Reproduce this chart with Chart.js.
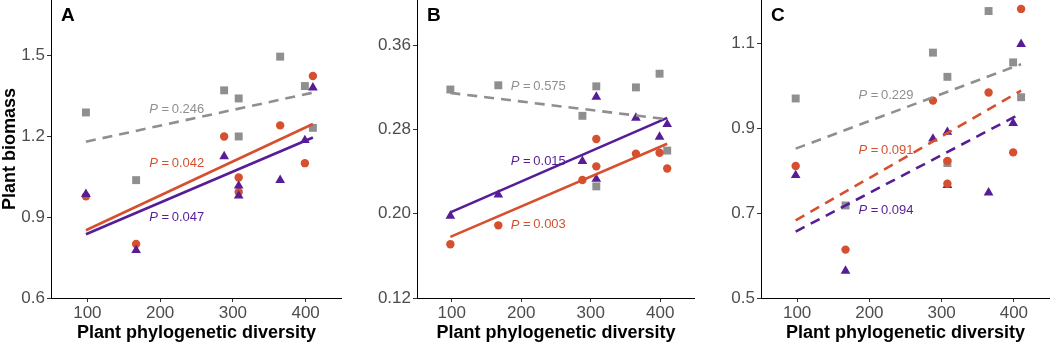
<!DOCTYPE html>
<html>
<head>
<meta charset="utf-8">
<script src="https://cdn.jsdelivr.net/npm/chart.js@4.4.0/dist/chart.umd.min.js"></script>
<style>
  html, body { margin: 0; padding: 0; background: #fff; }
  #figure { position: relative; width: 1050px; height: 344px; overflow: hidden; }
  #figure canvas { position: absolute; top: 0; }
</style>
</head>
<body>
<div id="figure">
  <canvas id="panelA" width="342" height="344" style="left:0px"></canvas>
  <canvas id="panelB" width="350" height="344" style="left:345px"></canvas>
  <canvas id="panelC" width="353" height="344" style="left:697px"></canvas>
</div>
<script>
// phylogenetic diversity of the eight plots (shared by all panels)
const diversity = [98, 167, 288, 308, 308, 365, 399, 410];
const xTicks = [100, 200, 300, 400];

// A
const squaresA = [1.288, 1.037, 1.370, 1.340, 1.199, 1.495, 1.386, 1.231];
const circlesA = [0.977, 0.800, 1.199, 1.047, 0.993, 1.240, 1.100, 1.423];
const trianglesA = [0.985, 0.777, 1.125, 1.016, 0.979, 1.037, 1.185, 1.380];
const pValuesA = ['0.246', '0.042', '0.047'];
const yTicksA = [0.6, 0.9, 1.2, 1.5];

// B
const squaresB = [0.318, 0.322, 0.293, 0.321, 0.226, 0.320, 0.333, 0.260];
const circlesB = [0.171, 0.189, 0.232, 0.271, 0.245, 0.257, 0.258, 0.243];
const trianglesB = [0.198, 0.218, 0.250, 0.233, 0.311, 0.291, 0.273, 0.285];
const pValuesB = ['0.575', '0.003', '0.015'];
const yTicksB = [0.12, 0.20, 0.28, 0.36];

// C
const squaresC = [0.970, 0.718, 1.078, 1.021, 0.818, 1.176, 1.055, 0.973];
const circlesC = [0.811, 0.614, 0.965, 0.823, 0.769, 0.984, 0.843, 1.181];
const trianglesC = [0.789, 0.564, 0.875, 0.891, 0.766, 0.748, 0.912, 1.098];
const pValuesC = ['0.229', '0.091', '0.094'];
const yTicksC = [0.5, 0.7, 0.9, 1.1];

const FONT = '"Liberation Sans", Arial, Helvetica, sans-serif';
Chart.defaults.font.family = FONT;

const seriesStyle = [
    { color: '#8f8f8f', shape: 'rect', radius: 5.6 },
    { color: '#d6502f', shape: 'circle', radius: 4.2 },
    { color: '#561d96', shape: 'triangle', radius: 5.6 }
];

// least-squares fit, drawn across the observed x range
function fitLine(xs, ys) {
    const n = xs.length;
    const mx = xs.reduce((a, b) => a + b, 0) / n;
    const my = ys.reduce((a, b) => a + b, 0) / n;
    let sxy = 0, sxx = 0;
    xs.forEach((x, i) => {
        sxy += (x - mx) * (ys[i] - my);
        sxx += (x - mx) * (x - mx);
    });
    const slope = sxy / sxx;
    return [Math.min(...xs), Math.max(...xs)].map(x => ({ x: x, y: my + slope * (x - mx) }));
}

const panelText = {
    id: 'panelText',
    afterDatasetsDraw(chart, args, opts) {
        const { ctx, chartArea, scales } = chart;
        ctx.save();
        ctx.textBaseline = 'middle';
        ctx.textAlign = 'left';
        ctx.fillStyle = '#000';
        ctx.font = 'bold 19px ' + FONT;
        ctx.fillText(opts.letter, chartArea.left + 10, 16);

        opts.pValues.forEach((p, i) => {
            const x = scales.x.getPixelForValue(opts.labelX);
            const y = scales.y.getPixelForValue(opts.labelY[i]);
            ctx.fillStyle = seriesStyle[i].color;
            ctx.font = 'italic 13px ' + FONT;
            ctx.fillText('P', x, y);
            const w = ctx.measureText('P').width;
            ctx.font = '13px ' + FONT;
            ctx.fillText('\u2009=\u2009' + p, x + w + 1, y);
        });
        ctx.restore();
    }
};

// keep the plot area flush with the canvas edges
function noPadding(s) {
    s.paddingTop = 0;
    s.paddingBottom = 0;
    s.paddingLeft = 0;
    s.paddingRight = 0;
}

function makePanel(id, cfg) {
    const datasets = [];
    cfg.series.forEach((ys, i) => {
        const st = seriesStyle[i];
        datasets.push({
            data: fitLine(diversity, ys),
            showLine: true,
            borderColor: st.color,
            borderWidth: 2.6,
            borderDash: parseFloat(cfg.pValues[i]) >= 0.05 ? [10, 7] : [],
            pointRadius: 0,
            order: 0
        });
        datasets.push({
            data: diversity.map((x, k) => ({ x: x, y: ys[k] })),
            pointStyle: st.shape,
            pointRadius: st.radius,
            backgroundColor: st.color,
            borderWidth: 0,
            order: cfg.pointOrder[i]
        });
    });

    return new Chart(document.getElementById(id), {
        type: 'scatter',
        data: { datasets: datasets },
        options: {
            responsive: false,
            animation: false,
            events: [],
            layout: { padding: 0, autoPadding: false },
            plugins: {
                legend: { display: false },
                tooltip: { enabled: false },
                panelText: {
                    letter: cfg.letter,
                    pValues: cfg.pValues,
                    labelX: 185,
                    labelY: cfg.labelY
                }
            },
            scales: {
                x: {
                    type: 'linear',
                    min: 50,
                    max: 450,
                    afterBuildTicks: s => { s.ticks = xTicks.map(v => ({ value: v })); },
                    afterFit: s => {
                        s.height = 46;
                        noPadding(s);
                    },
                    grid: { drawOnChartArea: false, tickLength: 4, tickColor: '#333' },
                    border: { color: '#000', width: 1 },
                    ticks: { color: '#4d4d4d', font: { size: 17 }, padding: 1, maxRotation: 0 },
                    title: {
                        display: true,
                        text: 'Plant phylogenetic diversity',
                        color: '#000',
                        font: { size: 18, weight: 'bold' },
                        padding: { top: 0, bottom: 0 }
                    }
                },
                y: {
                    type: 'linear',
                    min: cfg.yMin,
                    max: cfg.yMax,
                    afterBuildTicks: s => { s.ticks = cfg.yTicks.map(v => ({ value: v })); },
                    afterFit: s => {
                        s.width = cfg.yWidth;
                        noPadding(s);
                    },
                    grid: { drawOnChartArea: false, tickLength: 4, tickColor: '#333' },
                    border: { color: '#000', width: 1 },
                    ticks: {
                        color: '#4d4d4d',
                        font: { size: 17 },
                        padding: 2,
                        callback: v => v.toFixed(cfg.decimals)
                    },
                    title: {
                        display: !!cfg.yTitle,
                        text: cfg.yTitle || '',
                        color: '#000',
                        font: { size: 18, weight: 'bold' },
                        padding: { top: -1, bottom: 0 }
                    }
                }
            }
        },
        plugins: [panelText]
    });
}

makePanel('panelA', {
    letter: 'A',
    series: [squaresA, circlesA, trianglesA],
    pValues: pValuesA,
    pointOrder: [3, 2, 1],
    yMin: 0.6, yMax: 1.705, yTicks: yTicksA, decimals: 1,
    yWidth: 51,
    yTitle: 'Plant biomass',
    labelY: [1.30, 1.10, 0.90]
});

makePanel('panelB', {
    letter: 'B',
    series: [squaresB, circlesB, trianglesB],
    pValues: pValuesB,
    pointOrder: [3, 2, 1],
    yMin: 0.12, yMax: 0.403, yTicks: yTicksB, decimals: 2,
    yWidth: 72,
    labelY: [0.3205, 0.1894, 0.25]
});

makePanel('panelC', {
    letter: 'C',
    series: [squaresC, circlesC, trianglesC],
    pValues: pValuesC,
    pointOrder: [3, 1, 2],
    yMin: 0.5, yMax: 1.202, yTicks: yTicksC, decimals: 1,
    yWidth: 64,
    labelY: [0.977, 0.848, 0.707]
});
</script>
</body>
</html>
